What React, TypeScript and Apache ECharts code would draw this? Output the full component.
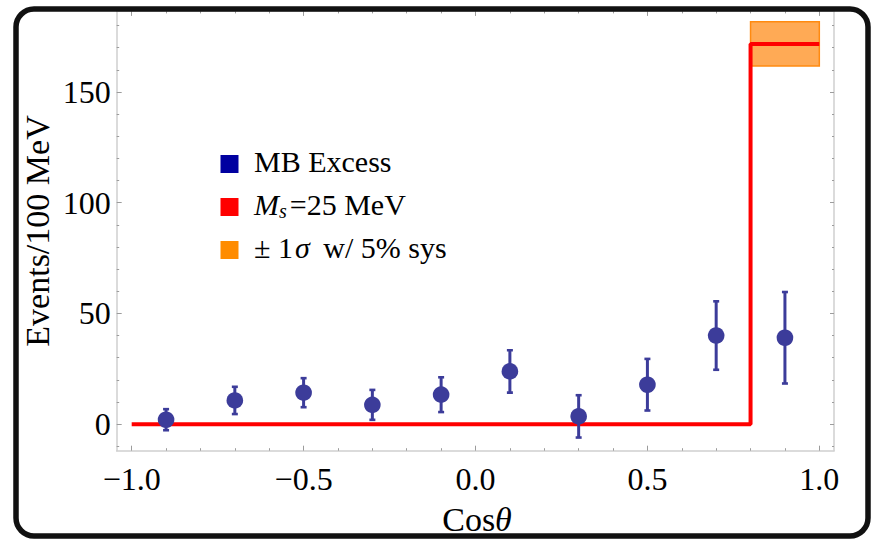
import React, { useEffect, useRef } from 'react';
import * as echarts from 'echarts';

// Axis ticks
const X_MAJOR = [-1, -0.5, 0, 0.5, 1];
const X_MINOR = [-0.9, -0.8, -0.7, -0.6, -0.4, -0.3, -0.2, -0.1, 0.1, 0.2, 0.3, 0.4, 0.6, 0.7, 0.8, 0.9];
const Y_MAJOR = [0, 50, 100, 150];
const Y_MINOR = [-10, 10, 20, 30, 40, 60, 70, 80, 90, 110, 120, 130, 140, 160, 170, 180];

// MB excess data (bin centers, events, 1-sigma error)
const BIN_CENTERS = [-0.9, -0.7, -0.5, -0.3, -0.1, 0.1, 0.3, 0.5, 0.7, 0.9];
const EXCESS = [2.0, 10.7, 14.2, 8.7, 13.3, 23.8, 3.5, 17.8, 40.0, 39.0];
const ERR = [4.8, 6.2, 6.6, 6.8, 7.9, 9.6, 9.6, 11.7, 15.5, 20.7];

// Model prediction (step) for M_s = 25 MeV
const MODEL_X = [-1, 0.8, 0.8, 1];
const MODEL_Y = [0, 0, 171.7, 171.7];

// +-1 sigma band
const BAND_X = [0.8, 1.0];
const BAND_Y = [161.7, 181.7];

const X_MIN = -1.0436;
const X_MAX = 1.0427;
const Y_MIN = -12;
const Y_MAX = 186.6;

const FONT = "'Liberation Serif', 'Times New Roman', serif";
const FRAME = '#cfcfcf';
const TICK = '#9c9c9c';
const PT = '#3c3c9a';

const fmtX = (v: number) => (v < 0 ? '\u2212' : '') + Math.abs(v).toFixed(1);

function xAx(position: string, vals: number[], len: number, line: boolean, label: boolean) {
  return {
    type: 'value', position, min: X_MIN, max: X_MAX,
    axisLine: { show: line, onZero: false, lineStyle: { color: FRAME, width: 1.5 } },
    axisTick: { show: true, inside: true, length: len, customValues: vals, lineStyle: { color: TICK, width: 1 } },
    axisLabel: label
      ? { show: true, customValues: vals, formatter: fmtX, margin: 12, fontFamily: FONT, fontSize: 32, color: '#000' }
      : { show: false },
    splitLine: { show: false },
    minorTick: { show: false },
  };
}
function yAx(position: string, vals: number[], len: number, line: boolean, label: boolean) {
  return {
    type: 'value', position, min: Y_MIN, max: Y_MAX,
    axisLine: { show: line, onZero: false, lineStyle: { color: FRAME, width: 1.5 } },
    axisTick: { show: true, inside: true, length: len, customValues: vals, lineStyle: { color: TICK, width: 1 } },
    axisLabel: label
      ? { show: true, customValues: vals, margin: 6, fontFamily: FONT, fontSize: 32, color: '#000' }
      : { show: false },
    splitLine: { show: false },
    minorTick: { show: false },
  };
}

export default function App() {
  const ref = useRef<HTMLDivElement>(null);
  useEffect(() => {
    if (!ref.current) return;
    const chart = echarts.init(ref.current, undefined, { renderer: 'svg' });
    const points = BIN_CENTERS.map((x, i) => [x, EXCESS[i], ERR[i]]);
    const model = MODEL_X.map((x, i) => [x, MODEL_Y[i]]);
    const legendRows = [
      { color: '#0000a0', text: '{n|MB Excess}' },
      { color: '#ff0000', text: '{i|M}{s|s}{n|=25 MeV}' },
      { color: '#ff8c00', text: '{n|\u00b1 1}{g|\u03c3}{n| w/ 5% sys}' },
    ];
    const rich = {
      n: { fontFamily: FONT, fontSize: 30, color: '#000' },
      i: { fontFamily: FONT, fontSize: 30, fontStyle: 'italic', color: '#000' },
      g: { fontFamily: FONT, fontSize: 30, fontStyle: 'italic', color: '#000', padding: [0, 6, 0, 2] },
      s: { fontFamily: FONT, fontSize: 20, fontStyle: 'italic', color: '#000', padding: [14, 3, 0, 0] },
    };
    const legendGraphics: any[] = [];
    legendRows.forEach((r, k) => {
      const yc = 164 + k * 43;
      legendGraphics.push({ type: 'rect', shape: { x: 220.5, y: yc - 9, width: 18, height: 18 }, style: { fill: r.color } });
      legendGraphics.push({
        type: 'text', x: 254, y: yc - 3,
        style: { text: r.text, fontFamily: FONT, fontSize: 30, fill: '#000', verticalAlign: 'middle', align: 'left', rich },
      });
    });

    chart.setOption({
      animation: false,
      backgroundColor: '#fff',
      grid: { left: 116.7, right: 37, top: 10.9, bottom: 88.3, containLabel: false },
      xAxis: [
        xAx('bottom', X_MAJOR, 5, true, true),
        xAx('bottom', X_MINOR, 2.5, false, false),
        xAx('top', X_MAJOR, 5, true, false),
        xAx('top', X_MINOR, 2.5, false, false),
      ],
      yAxis: [
        yAx('left', Y_MAJOR, 5, true, true),
        yAx('left', Y_MINOR, 2.5, false, false),
        yAx('right', Y_MAJOR, 4, true, false),
        yAx('right', Y_MINOR, 2, false, false),
      ],
      series: [
        {
          type: 'custom', name: 'band', xAxisIndex: 0, yAxisIndex: 0,
          data: [[BAND_X[0], BAND_X[1], BAND_Y[0], BAND_Y[1]]],
          encode: { x: [0, 1], y: [2, 3] },
          renderItem: (params: any, api: any) => {
            const p0 = api.coord([api.value(0), api.value(3)]);
            const p1 = api.coord([api.value(1), api.value(2)]);
            return {
              type: 'rect',
              shape: { x: p0[0], y: p0[1], width: p1[0] - p0[0], height: p1[1] - p0[1] },
              style: { fill: '#ffaa55', stroke: '#ff8a10', lineWidth: 1.5 },
            };
          },
          z: 2,
        },
        {
          type: 'line', name: 'model', xAxisIndex: 0, yAxisIndex: 0,
          data: model, showSymbol: false, symbol: 'none',
          lineStyle: { color: '#ff0000', width: 4 }, z: 3,
        },
        {
          type: 'custom', name: 'MB Excess', xAxisIndex: 0, yAxisIndex: 0,
          data: points, encode: { x: 0, y: 1 }, z: 4,
          renderItem: (params: any, api: any) => {
            const x = api.value(0), y = api.value(1), e = api.value(2);
            const c = api.coord([x, y]);
            const hi = api.coord([x, y + e]);
            const lo = api.coord([x, y - e]);
            return {
              type: 'group',
              children: [
                { type: 'line', shape: { x1: c[0], y1: hi[1], x2: c[0], y2: lo[1] }, style: { stroke: PT, lineWidth: 3 } },
                { type: 'rect', shape: { x: c[0] - 3, y: hi[1] - 1.2, width: 6, height: 2.6 }, style: { fill: PT } },
                { type: 'rect', shape: { x: c[0] - 3, y: lo[1] - 1.4, width: 6, height: 2.6 }, style: { fill: PT } },
                { type: 'circle', shape: { cx: c[0], cy: c[1], r: 8.3 }, style: { fill: PT } },
              ],
            };
          },
        },
      ],
      graphic: [
        ...legendGraphics,
        {
          type: 'text', x: 37, y: 231, rotation: Math.PI / 2,
          style: { text: 'Events/100 MeV', fontFamily: FONT, fontSize: 34, fill: '#000', align: 'center', verticalAlign: 'middle' },
        },
        {
          type: 'text', x: 477, y: 519,
          style: {
            text: '{n|Cos}{i|\u03b8}', align: 'center', verticalAlign: 'middle',
            rich: {
              n: { fontFamily: FONT, fontSize: 34, color: '#000' },
              i: { fontFamily: FONT, fontSize: 34, fontStyle: 'italic', color: '#000' },
            },
          },
        },
        {
          type: 'rect', z: 100,
          shape: { x: 16, y: 9, width: 852, height: 527, r: 18 },
          style: { fill: 'none', stroke: '#111', lineWidth: 5.5 },
        },
      ],
    });
    return () => chart.dispose();
  }, []);
  return <div ref={ref} style={{ position: 'absolute', left: 0, top: 0, width: 871, height: 539 }} />;
}
